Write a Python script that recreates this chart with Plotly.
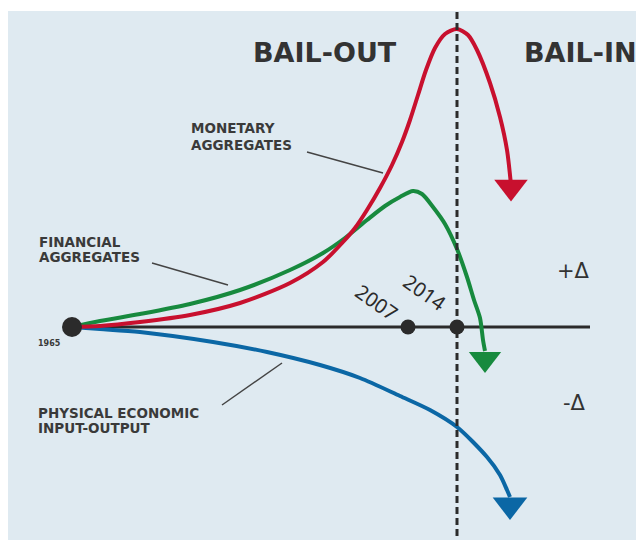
import plotly.graph_objects as go

# conceptual "triple curve" diagram; x is an abstract time axis, y is change (+/- delta) from the 1965 baseline
red_x = [72, 100, 140, 190, 240, 290, 323, 343, 355, 367, 380, 392, 402, 410, 418, 426, 435, 445, 457, 468, 477, 490, 500, 507, 511]
red_y = [0, 1, 5, 12, 24, 44, 65, 85, 99, 117, 139, 162, 185, 207, 232, 257, 279, 293, 298, 292, 277, 244, 210, 177, 142]

green_x = [72, 100, 140, 190, 240, 290, 323, 345, 367, 385, 400, 413, 422, 433, 445, 457, 467, 474, 480, 483, 485]
green_y = [0, 6, 13, 23, 37, 57, 74, 89, 107, 121, 130, 136, 133, 120, 103, 78, 50, 27, 9, -13, -24]

blue_x = [72, 100, 140, 213, 267, 320, 360, 400, 430, 457, 487, 500, 507, 510]
blue_y = [0, -2, -5, -15, -25, -38, -51, -69, -83, -100, -130, -148, -163, -170]

arrow_x = [511, 485, 510]
arrow_y = [140, -32, -178]
arrow_colors = ["#c8102e", "#178a3e", "#0b67a5"]
arrow_sizes = [29, 28, 30]

year_labels = ["1965", "2007", "2014"]
year_x = [72, 408, 457]
baseline_end = 590

RED = "#c8102e"
GREEN = "#178a3e"
BLUE = "#0b67a5"
INK = "#2b2b2b"
BG = "#dfeaf1"

fig = go.Figure()

# baseline
fig.add_trace(go.Scatter(x=[year_x[0], baseline_end], y=[0, 0], mode="lines",
                         line=dict(color=INK, width=3), hoverinfo="skip"))

for xs, ys, c in [(blue_x, blue_y, BLUE), (green_x, green_y, GREEN), (red_x, red_y, RED)]:
    fig.add_trace(go.Scatter(x=xs, y=ys, mode="lines", line=dict(color=c, width=4, shape="spline", smoothing=0.8),
                             hoverinfo="skip"))

fig.add_trace(go.Scatter(x=arrow_x, y=arrow_y, mode="markers",
                         marker=dict(symbol="triangle-down", size=arrow_sizes, color=arrow_colors,
                                     opacity=1, line=dict(width=0)),
                         hoverinfo="skip"))

# bail-out / bail-in divider at 2014
fig.add_trace(go.Scatter(x=[year_x[2], year_x[2]], y=[315, -213], mode="lines",
                         line=dict(color=INK, width=3, dash="7px,4px"), hoverinfo="skip"))

fig.add_trace(go.Scatter(x=year_x, y=[0, 0, 0], mode="markers",
                         marker=dict(color=INK, size=[20, 15, 15], opacity=1, line=dict(width=0)),
                         hoverinfo="skip"))

# leader lines
for x0, y0, x1, y1 in [(307, 175, 383, 154), (152, 64, 228, 42), (222, -78, 282, -36)]:
    fig.add_shape(type="line", x0=x0, y0=y0, x1=x1, y1=y1, line=dict(color="#444444", width=1.5))

fig.add_shape(type="rect", xref="paper", yref="paper", x0=8 / 636, x1=1, y0=0, y1=529 / 540,
              fillcolor=BG, line=dict(width=0), layer="below")

head = dict(family="DejaVu Sans", size=27, color="#333333", weight="bold")
lab = dict(family="DejaVu Sans", size=13.5, color="#3a3a3a", weight="bold")
num = dict(family="Noto Sans, Open Sans", size=20, color="#2b2b2b")

notes = [
    ("BAIL-OUT", 325, 275, "center", head, 0),
    ("BAIL-IN", 522, 275, "left", head, 0),
    ("MONETARY", 189, 199, "left", lab, 0),
    ("AGGREGATES", 189, 182, "left", lab, 0),
    ("FINANCIAL", 37, 85, "left", lab, 0),
    ("AGGREGATES", 37, 70, "left", lab, 0),
    ("PHYSICAL ECONOMIC", 36, -86, "left", lab, 0),
    ("INPUT-OUTPUT", 36, -101, "left", lab, 0),
    ("1965", 49, -16, "center", dict(family="DejaVu Sans", size=8, color="#3a3a3a", weight="bold"), 0),
    (year_labels[1], 377, 25, "center", num, 35),
    (year_labels[2], 425, 35, "center", num, 35),
    ("+Δ", 573, 56, "center", dict(family="DejaVu Sans", size=21, color="#333333"), 0),
    ("-Δ", 574, -76, "center", dict(family="DejaVu Sans", size=21, color="#333333"), 0),
]
for text, x, y, anchor, font, ang in notes:
    fig.add_annotation(x=x, y=y, text=text, showarrow=False, xanchor=anchor, yanchor="middle",
                       font=font, textangle=ang)

fig.update_layout(
    width=636, height=540,
    margin=dict(l=0, r=0, t=0, b=0),
    paper_bgcolor="white", plot_bgcolor="rgba(0,0,0,0)",
    showlegend=False,
    xaxis=dict(range=[0, 636], visible=False, fixedrange=True),
    yaxis=dict(range=[-213, 327], visible=False, fixedrange=True),
)

# drop the default 8px page margin so the figure fills the window
fig.write_html("out.html", config={"displayModeBar": False},
               post_script="document.body.style.margin='0';document.body.style.overflow='hidden';")
